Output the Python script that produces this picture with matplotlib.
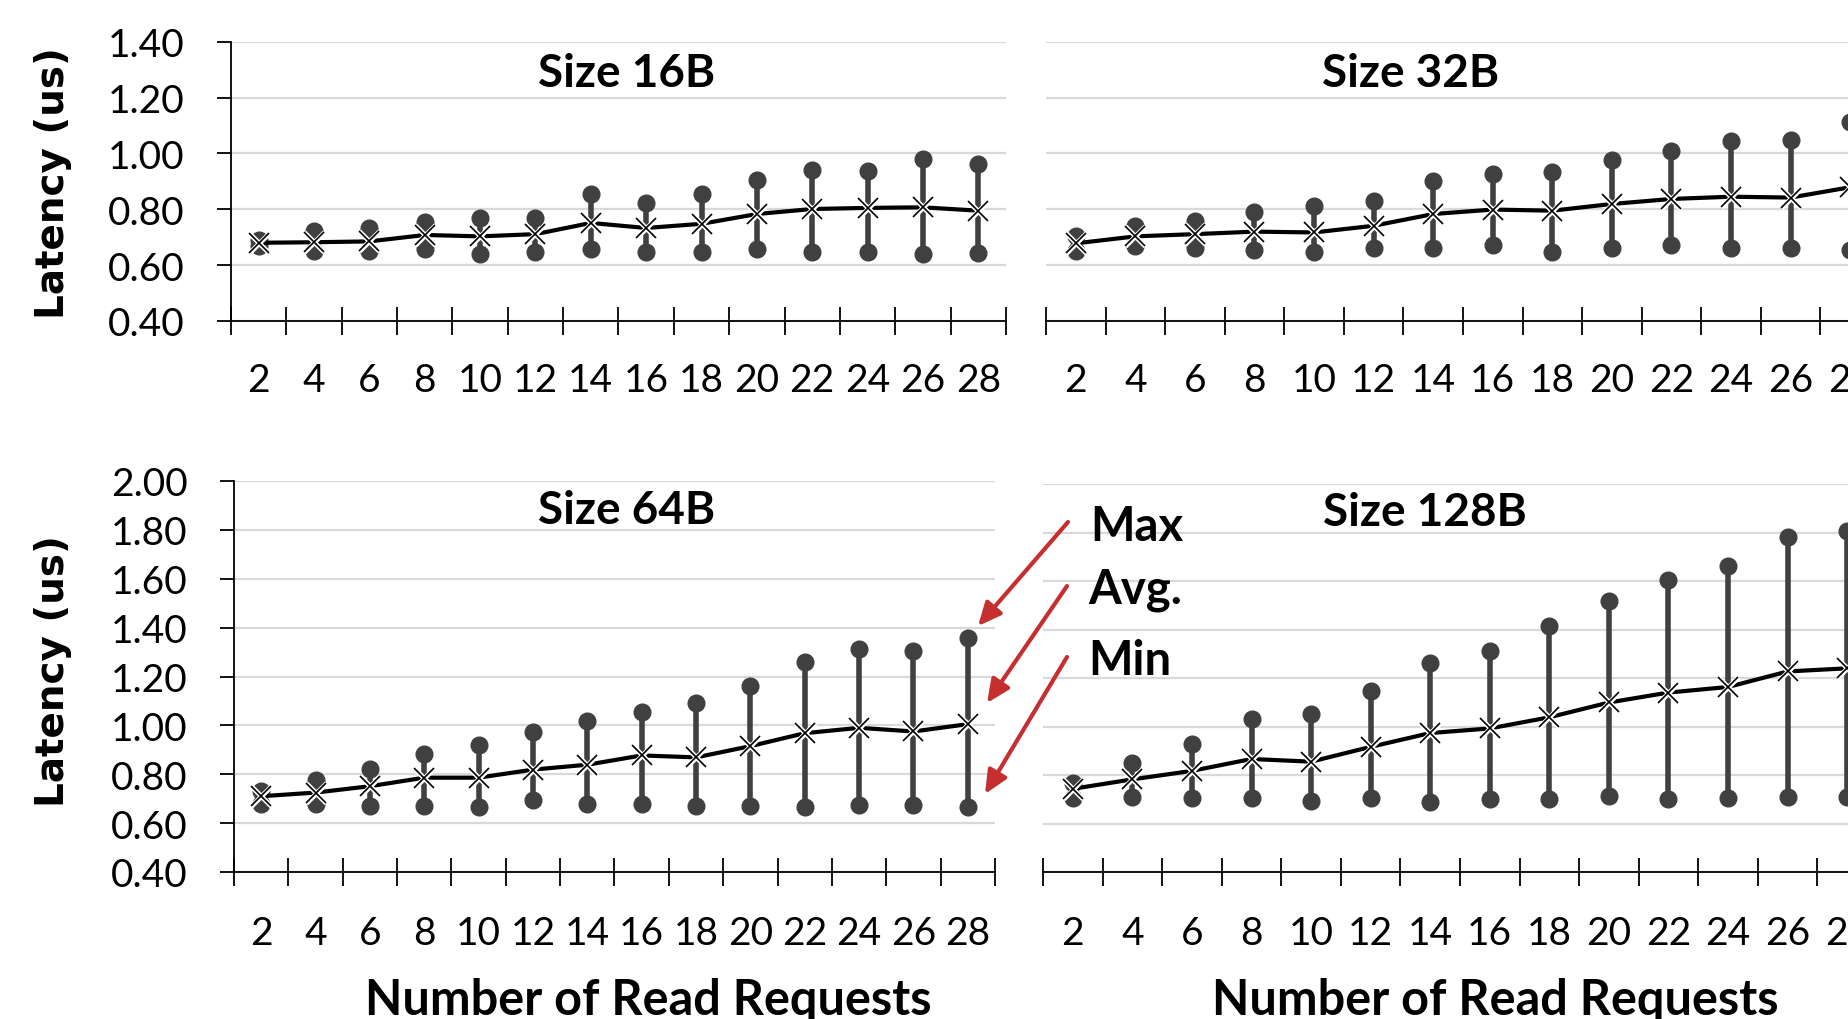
# Read latency vs number of outstanding read requests, four payload sizes
import numpy as np
import matplotlib.pyplot as plt
from matplotlib.patches import FancyArrowPatch

W, H = 1849, 1020

requests = [2, 4, 6, 8, 10, 12, 14, 16, 18, 20, 22, 24, 26, 28]

# Size 16B
min_16 = [0.67, 0.652, 0.649, 0.658, 0.639, 0.648, 0.658, 0.648, 0.646, 0.658, 0.648, 0.648, 0.640, 0.643]
avg_16 = [0.68, 0.682, 0.685, 0.708, 0.703, 0.711, 0.751, 0.733, 0.748, 0.783, 0.801, 0.805, 0.807, 0.795]
max_16 = [0.69, 0.721, 0.733, 0.753, 0.769, 0.769, 0.855, 0.822, 0.855, 0.905, 0.942, 0.938, 0.980, 0.962]

# Size 32B
min_32 = [0.649, 0.670, 0.660, 0.655, 0.648, 0.660, 0.660, 0.672, 0.646, 0.660, 0.672, 0.660, 0.660, 0.655]
avg_32 = [0.678, 0.703, 0.711, 0.720, 0.717, 0.741, 0.783, 0.799, 0.795, 0.819, 0.837, 0.845, 0.842, 0.879]
max_32 = [0.705, 0.741, 0.759, 0.789, 0.811, 0.831, 0.901, 0.926, 0.935, 0.978, 1.010, 1.046, 1.049, 1.111]

# Size 64B
min_64 = [0.680, 0.680, 0.672, 0.672, 0.665, 0.695, 0.680, 0.680, 0.672, 0.672, 0.665, 0.675, 0.675, 0.668]
avg_64 = [0.710, 0.725, 0.751, 0.786, 0.786, 0.819, 0.839, 0.877, 0.869, 0.915, 0.968, 0.990, 0.975, 1.005]
max_64 = [0.733, 0.775, 0.821, 0.881, 0.921, 0.972, 1.016, 1.054, 1.093, 1.160, 1.258, 1.313, 1.305, 1.357]

# Size 128B
min_128 = [0.705, 0.708, 0.705, 0.705, 0.693, 0.705, 0.690, 0.702, 0.702, 0.713, 0.702, 0.705, 0.708, 0.708]
avg_128 = [0.743, 0.782, 0.817, 0.866, 0.855, 0.916, 0.973, 0.992, 1.038, 1.099, 1.140, 1.163, 1.227, 1.240]
max_128 = [0.766, 0.850, 0.927, 1.029, 1.052, 1.145, 1.260, 1.311, 1.415, 1.519, 1.603, 1.663, 1.782, 1.805]

yticks_top = [0.40, 0.60, 0.80, 1.00, 1.20, 1.40]
yticks_bottom = [0.40, 0.60, 0.80, 1.00, 1.20, 1.40, 1.60, 1.80, 2.00]

plt.rcParams['font.family'] = ['Lato', 'DejaVu Sans']

fig = plt.figure(figsize=(W / 100, H / 100), dpi=100)


def fx(x):
    return x / W


def fy(y):
    return 1 - y / H


def add_panel(box, yticks, show_y, mins, avgs, maxs, label_pad):
    # box in pixels: left, top, right, bottom
    x0, y0, x1, y1 = box
    ax = fig.add_axes([fx(x0), fy(y1), (x1 - x0) / W, (y1 - y0) / H])
    pos = np.arange(1, len(requests) + 1)
    grey = '#404040'
    ax.vlines(pos, mins, maxs, color=grey, lw=4, zorder=3)
    ax.plot(pos, mins, 'o', ms=12, color=grey, zorder=3)
    ax.plot(pos, maxs, 'o', ms=12, color=grey, zorder=3)
    ax.plot(pos, avgs, '-', color='black', lw=3, zorder=4)
    # white halo round the x markers, like the excel original
    ax.plot(pos, avgs, 'x', ms=14, mew=3.5, color='white', zorder=5)
    ax.plot(pos, avgs, 'x', ms=14, mew=1.2, color='black', zorder=6)

    ax.set_xlim(0.5, len(requests) + 0.5)
    ax.set_ylim(yticks[0], yticks[-1])
    # category axis: ticks between the categories, labels in the middle
    ax.set_xticks(np.arange(0.5, len(requests) + 1, 1))
    ax.set_xticklabels([])
    ax.set_xticks(pos, minor=True)
    ax.set_xticklabels([str(r) for r in requests], minor=True)
    ax.tick_params(axis='x', which='major', direction='inout', length=19.5, width=1.3)
    ax.tick_params(axis='x', which='minor', length=0, pad=label_pad, labelsize=28)

    ax.set_yticks(yticks)
    if show_y:
        ax.set_yticklabels(['%.2f' % v for v in yticks])
        ax.tick_params(axis='y', direction='out', length=10, width=1.3, pad=23.5, labelsize=28)
    else:
        ax.tick_params(axis='y', left=False, labelleft=False)
        ax.spines['left'].set_visible(False)
    ax.spines['top'].set_visible(False)
    ax.spines['right'].set_visible(False)
    ax.spines['left'].set_linewidth(1.3)
    ax.spines['bottom'].set_linewidth(1.3)
    ax.yaxis.grid(True, color='#D9D9D9', lw=1.6)
    ax.set_axisbelow(True)
    return ax


add_panel((231, 42.7, 1006, 322), yticks_top, True, min_16, avg_16, max_16, 29.5)
add_panel((1046, 42.7, 1880, 322), yticks_top, False, min_32, avg_32, max_32, 29.5)
add_panel((234, 482, 995, 873), yticks_bottom, True, min_64, avg_64, max_64, 31)
add_panel((1043, 485, 1877, 873), yticks_bottom, False, min_128, avg_128, max_128, 31)

# panel titles
titles = [('Size 16B', 627, 87), ('Size 32B', 1411, 87), ('Size 64B', 627, 524), ('Size 128B', 1425, 526)]
for t, x, y in titles:
    fig.text(fx(x), fy(y), t, ha='center', va='baseline', fontsize=33, fontweight='bold')

# axis titles
for y in [183, 671]:
    fig.text(fx(53), fy(y), 'Latency (us)', rotation=90, ha='center', va='center',
             family='DejaVu Sans', fontweight='bold', fontsize=28)
for x in [648, 1495]:
    fig.text(fx(x), fy(1015), 'Number of Read Requests', ha='center', va='baseline',
             fontsize=35, fontweight='bold')

# Max / Avg. / Min pointers
red = '#C62F2F'
arrows = [((1068, 523), (978, 627)), ((1067, 587), (987, 704)), ((1067, 658), (985, 795))]
for a, b in arrows:
    arr = FancyArrowPatch((fx(a[0]), fy(a[1])), (fx(b[0]), fy(b[1])), transform=fig.transFigure,
                          arrowstyle='-|>,head_length=0.7,head_width=0.32', mutation_scale=20,
                          lw=3, color=red, shrinkA=0, shrinkB=0)
    fig.add_artist(arr)
for t, x, y in [('Max', 1090, 541), ('Avg.', 1088, 603), ('Min', 1088, 675)]:
    fig.text(fx(x), fy(y), t, ha='left', va='baseline', fontsize=34, fontweight='bold')

fig.savefig('out.png', dpi=100)
